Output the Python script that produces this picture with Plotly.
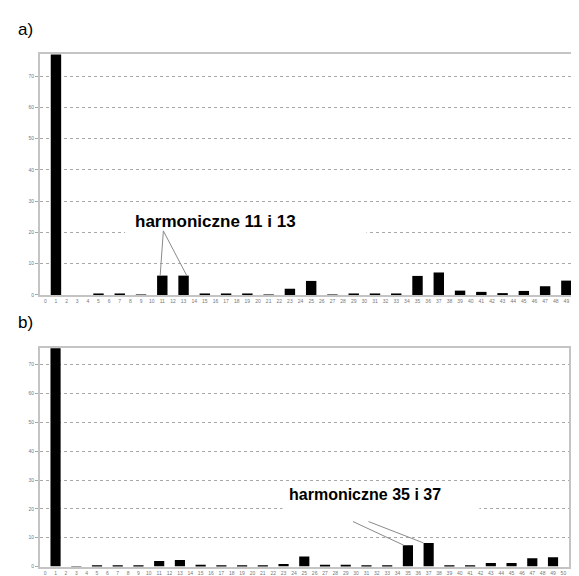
import plotly.graph_objects as go

# ---- data ----
harmonics = list(range(0, 51))
tick_labels = [str(h) for h in harmonics]

vals_a = [0, 100, 0, 0, 0, 0.4, 0, 0.3, 0, 0.1,
          0, 6.2, 0, 6.2, 0, 0.3, 0, 0.2, 0, 0.3,
          0, 0.1, 0, 2.0, 0, 4.5, 0, 0.1, 0, 0.2,
          0, 0.3, 0, 0.2, 0, 6.1, 0, 7.2, 0, 1.4,
          0, 1.0, 0, 0.6, 0, 1.3, 0, 2.8, 0, 4.6, 0]

vals_b = [0, 100, 0, 0.1, 0, 0.4, 0, 0.2, 0, 0.2,
          0, 1.9, 0, 2.3, 0, 0.6, 0, 0.5, 0, 0.2,
          0, 0.4, 0, 0.9, 0, 3.5, 0, 0.6, 0, 0.6,
          0, 0.5, 0, 0.5, 0, 7.4, 0, 8.2, 0, 0.5,
          0, 0.3, 0, 1.2, 0, 1.2, 0, 2.9, 0, 3.2, 0]

label_a = "harmoniczne 11 i 13"
label_b = "harmoniczne 35 i 37"

FONT = "Liberation Sans, Arial, sans-serif"
GRID = "#a8a8a8"
FRAME = "#c4c4c4"
TICKF = dict(family=FONT, size=5, color="#777777")

fig = go.Figure()
fig.add_trace(go.Bar(x=harmonics, y=vals_a, marker=dict(color="black", line=dict(width=0)),
                     xaxis="x", yaxis="y", showlegend=False))
fig.add_trace(go.Bar(x=harmonics, y=vals_b, marker=dict(color="black", line=dict(width=0)),
                     xaxis="x2", yaxis="y2", showlegend=False))

W, H = 579, 576
ML = 32
PW = W - ML

def ydom(top_px, bot_px):
    return [(H - bot_px) / H, (H - top_px) / H]

xcommon = dict(tickmode="array", tickvals=harmonics, ticktext=tick_labels, tickangle=0,
               tickfont=TICKF, showgrid=False, zeroline=False, showline=True,
               linecolor=FRAME, linewidth=2, mirror=True, ticks="", fixedrange=True,
               ticklabelstandoff=0)
ycommon = dict(dtick=10, tick0=0, tickfont=TICKF, showgrid=True, gridcolor=GRID,
               griddash="dot", gridwidth=1, zeroline=False, showline=True,
               linecolor=FRAME, linewidth=2, mirror=True, ticks="outside",
               ticklen=3, tickcolor=GRID, fixedrange=True)

top_b, bot_b = 342, 561.5
fig.update_layout(
    width=W, height=H,
    margin=dict(l=ML, r=0, t=0, b=0),
    paper_bgcolor="white", plot_bgcolor="white",
    bargap=0.02,
    xaxis=dict(xcommon, domain=[0, 1], range=[-0.5, 50.75], anchor="y"),
    yaxis=dict(ycommon, domain=ydom(46.7, 288.5), range=[0, 76.9], anchor="x"),
    xaxis2=dict(xcommon, domain=[0, (562.5 - ML) / PW], range=[-0.5, 50.5], anchor="y2"),
    yaxis2=dict(ycommon, domain=ydom(top_b, bot_b), range=[0, (bot_b - top_b) / 2.9], anchor="x2"),
)

shapes = []
# white boxes behind the labels (interrupt gridlines)
shapes.append(dict(type="rect", xref="x", yref="y", x0=7.5, x1=30.2, y0=19.0, y1=28.0,
                   fillcolor="white", line=dict(width=0), layer="between"))
shapes.append(dict(type="rect", xref="x2", yref="y2", x0=22.9, x1=41.9, y0=17.5, y1=27.5,
                   fillcolor="white", line=dict(width=0), layer="between"))
# pointer lines
LC = "#8a8a8a"
shapes.append(dict(type="line", xref="x", yref="y", x0=11.1, y0=20.5, x1=10.8, y1=vals_a[11],
                   line=dict(color=LC, width=1)))
shapes.append(dict(type="line", xref="x", yref="y", x0=11.1, y0=20.5, x1=13.3, y1=vals_a[13],
                   line=dict(color=LC, width=1)))
shapes.append(dict(type="line", xref="x2", yref="y2", x0=29.7, y0=15.6, x1=34.6, y1=vals_b[35],
                   line=dict(color=LC, width=1)))
shapes.append(dict(type="line", xref="x2", yref="y2", x0=31.2, y0=15.6, x1=36.5, y1=vals_b[37],
                   line=dict(color=LC, width=1)))
fig.update_layout(shapes=shapes)

annotations = [
    dict(text="<b>" + label_a + "</b>", xref="x", yref="y", x=16.0, y=23.4, showarrow=False,
         font=dict(family=FONT, size=17, color="black")),
    dict(text="<b>" + label_b + "</b>", xref="x2", yref="y2", x=30.9, y=24.9, showarrow=False,
         font=dict(family=FONT, size=16, color="black")),
    dict(text="a)", xref="paper", yref="paper", x=-0.044, y=(H - 21.5) / H, xanchor="left",
         yanchor="middle", showarrow=False, font=dict(family=FONT, size=17, color="black")),
    dict(text="b)", xref="paper", yref="paper", x=-0.044, y=(H - 316) / H, xanchor="left",
         yanchor="middle", showarrow=False, font=dict(family=FONT, size=17, color="black")),
]
fig.update_layout(annotations=annotations)

fig.write_html("out.html")
